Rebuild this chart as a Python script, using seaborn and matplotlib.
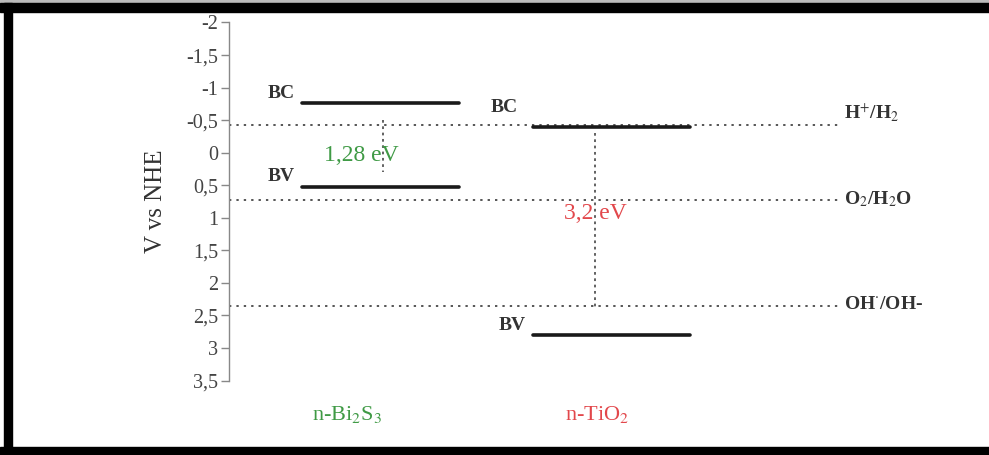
import matplotlib
matplotlib.use("Agg")
import matplotlib.pyplot as plt
import seaborn as sns
import pandas as pd
from matplotlib.patches import Rectangle

# Band edges (V vs NHE)
materials = ["n-Bi$_2$S$_3$", "n-TiO$_2$"]
material_colors = ["#3f9a45", "#e2474b"]
band_bc = [-0.76, -0.40]
band_bv = [0.52, 2.80]
gap_labels = ["1,28 eV", "3,2 eV"]

# Redox potentials (V vs NHE)
redox_names = ["H$^{+}$/H$_2$", "O$_2$/H$_2$O", "OH$^{\\cdot}$/OH-"]
redox_values = [-0.42, 0.73, 2.35]

y_ticks = [-2, -1.5, -1, -0.5, 0, 0.5, 1, 1.5, 2, 2.5, 3, 3.5]
y_tick_labels = ["-2", "-1,5", "-1", "-0,5", "0", "0,5", "1", "1,5", "2", "2,5", "3", "3,5"]

sns.set_theme(style="white")
plt.rcParams["font.family"] = ["Liberation Serif", "DejaVu Serif"]
plt.rcParams["mathtext.fontset"] = "stix"

fig = plt.figure(figsize=(9.89, 4.55), dpi=100)
ax = fig.add_axes([229 / 989, 1 - 380.6 / 455, 1 - 229 / 989, (380.6 - 22.5) / 455])
ax.set_xlim(0.346, 3.636)
ax.set_ylim(3.5, -2)

half = 0.34
centers = [1, 2]

# band levels as line segments
rows = []
for i, (m, bc, bv) in enumerate(zip(materials, band_bc, band_bv)):
    for lvl, val in (("BC", bc), ("BV", bv)):
        seg = f"{i}-{lvl}"
        rows.append({"seg": seg, "x": centers[i] - half, "E": val})
        rows.append({"seg": seg, "x": centers[i] + half, "E": val})
levels = pd.DataFrame(rows)
sns.lineplot(data=levels, x="x", y="E", units="seg", estimator=None,
             color="#1a1a1a", linewidth=2.6, ax=ax, legend=False)

# redox reference lines
for name, val in zip(redox_names, redox_values):
    ax.plot([0.346, 2.99], [val, val], linestyle=(0, (1.2, 2.6)),
            color="#555555", linewidth=1.4, zorder=1)
    ax.text(3.01, val - 0.02, name, fontsize=14, fontweight="bold",
            color="#333333", va="bottom" if name.startswith("H") else "center",
            ha="left")

# band gap markers
ax.plot([1.013, 1.013], [-0.5, 0.3], linestyle=(0, (1.5, 2)),
        color="#555555", linewidth=1.3, zorder=1)
ax.plot([1.93, 1.93], [-0.3, 2.38], linestyle=(0, (1.5, 2)),
        color="#555555", linewidth=1.3, zorder=1)
ax.text(0.92, 0.05, gap_labels[0], color=material_colors[0], fontsize=17,
        ha="center", va="center")
ax.text(1.93, 0.93, gap_labels[1], color=material_colors[1], fontsize=17,
        ha="center", va="center")

# BC / BV labels
lbl = dict(fontsize=14, fontweight="bold", color="#333333")
ax.text(centers[0] - half - 0.03, band_bc[0] - 0.02, "BC", ha="right", va="bottom", **lbl)
ax.text(centers[0] - half - 0.03, band_bv[0] - 0.02, "BV", ha="right", va="bottom", **lbl)
ax.text(1.537, band_bc[1] - 0.17, "BC", ha="center", va="bottom", **lbl)
ax.text(centers[1] - half - 0.03, band_bv[1] - 0.02, "BV", ha="right", va="bottom", **lbl)

# material names below the axis
for c, m, col in zip([0.857, 1.94], materials, material_colors):
    ax.text(c, -0.095, m, transform=ax.get_xaxis_transform(), color=col,
            fontsize=16, ha="center", va="center")

ax.set_yticks(y_ticks)
ax.set_yticklabels(y_tick_labels, fontsize=14.5, color="#444444")
ax.set_xticks([])
ax.set_xlabel("")
ax.set_ylabel("V vs NHE", fontsize=18, color="#333333")
ax.yaxis.set_label_coords(-0.082, 0.5)
sns.despine(ax=ax, top=True, right=True, bottom=True)
ax.spines["left"].set_color("#888888")
ax.spines["left"].set_linewidth(1.0)
ax.tick_params(axis="y", left=True, length=6, width=1, color="#888888", pad=2)

# picture frame
fig.patches.append(Rectangle((0, 1 - 3 / 455), 1, 3 / 455, transform=fig.transFigure,
                             color="#bbbbbb", zorder=10))
fig.patches.append(Rectangle((0, 1 - 11.5 / 455), 1, 8.5 / 455, transform=fig.transFigure,
                             color="black", zorder=10))
fig.patches.append(Rectangle((4 / 989, 0), 8 / 989, 1 - 3 / 455, transform=fig.transFigure,
                             color="black", zorder=10))
fig.patches.append(Rectangle((0, 0), 1, 8 / 455, transform=fig.transFigure,
                             color="black", zorder=10))

fig.savefig("out.png", dpi=100)
